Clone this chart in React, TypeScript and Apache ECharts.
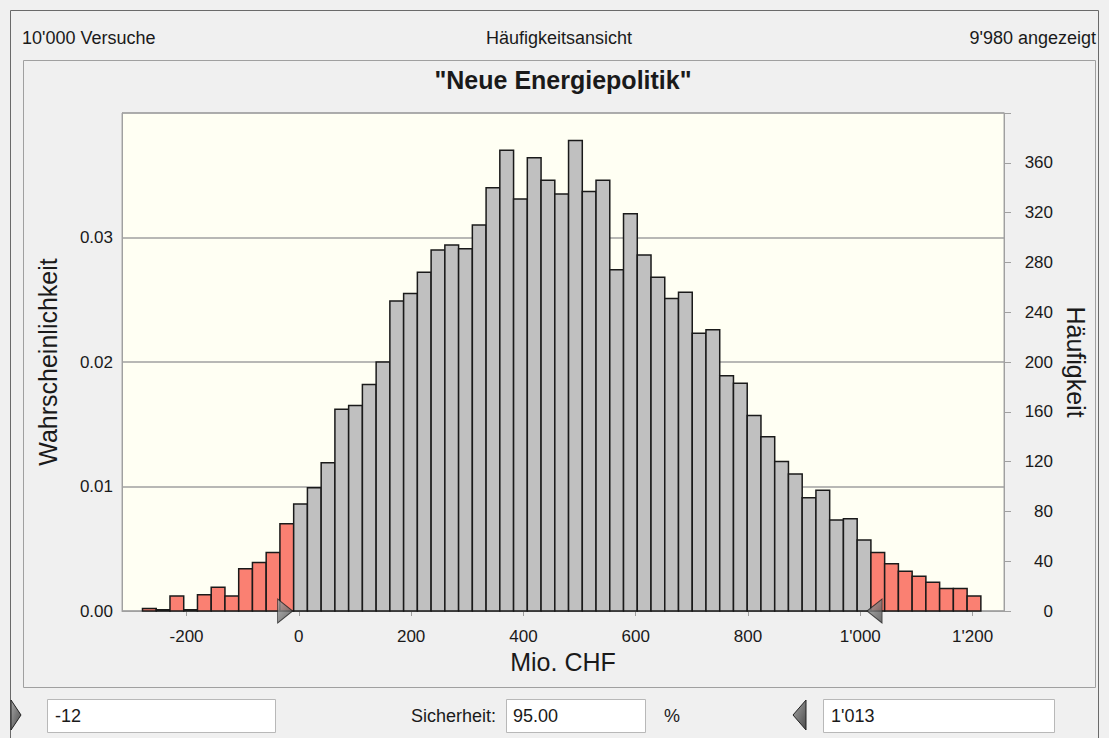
import React, { useEffect, useRef } from "react";
import * as echarts from "echarts";

// ---- data ----
const binCounts = [
  2, 1, 12, 1, 13, 19, 12, 34, 39, 47, 70, 86, 99, 119, 162, 165, 182, 200, 249, 255,
  272, 290, 294, 291, 310, 340, 370, 331, 364, 346, 335, 378, 337, 346, 274, 319, 286,
  268, 251, 256, 223, 226, 189, 183, 157, 140, 120, 110, 91, 97, 73, 74, 57, 47, 38,
  32, 28, 23, 18, 18, 12,
];
const binStart = -278.5;
const binWidth = 24.48;
const lowerCut = -12;
const upperCut = 1013;
const certainty = 95;
const trials = 10000;
const displayed = 9980;
const xTicks = [-200, 0, 200, 400, 600, 800, 1000, 1200];
const xMin = -315;
const xMax = 1256;
const countMax = 400;
const countInterval = 40;
const probMax = 0.04;
const probInterval = 0.01;

const FONT = "'Liberation Sans', Arial, sans-serif";
const TEXT = "#1a1a1a";
const GRID_GRAY = "#a0a0a0";

const fmt = (v: number) => {
  const s = String(Math.abs(Math.round(v))).replace(/\B(?=(\d{3})+(?!\d))/g, "'");
  return (v < 0 ? "-" : "") + s;
};

export default function App() {
  const ref = useRef<HTMLDivElement>(null);

  useEffect(() => {
    if (!ref.current) return;
    const chart = echarts.init(ref.current, undefined, { renderer: "svg" });

    const barData = binCounts.map((c, i) => [
      binStart + i * binWidth,
      binStart + (i + 1) * binWidth,
      c,
    ]);

    const triGrad = () =>
      new echarts.graphic.LinearGradient(0, 0, 1, 1, [
        { offset: 0, color: "#a8a8a8" },
        { offset: 1, color: "#4a4a4a" },
      ]);

    const uiText = (text: string, x: number, y: number, align: string, size = 18, weight = "normal") => ({
      type: "text",
      x,
      y,
      silent: true,
      style: {
        text,
        fontSize: size,
        fontFamily: FONT,
        fontWeight: weight,
        fill: TEXT,
        align,
        verticalAlign: "middle",
      },
    });

    const box = (x: number, w: number) => ({
      type: "rect",
      shape: { x: x + 0.5, y: 699.5, width: w, height: 33 },
      style: { fill: "#ffffff", stroke: "#b8b8b8", lineWidth: 1 },
    });

    const option: any = {
      animation: false,
      backgroundColor: "#f0f0f0",
      grid: {
        left: 122,
        right: 105,
        top: 113,
        bottom: 127,
        show: true,
        backgroundColor: "#fffff3",
        borderColor: "#a8a8a8",
        borderWidth: 1,
      },
      xAxis: {
        type: "value",
        min: xMin,
        max: xMax,
        name: "Mio. CHF",
        nameLocation: "middle",
        nameGap: 36,
        nameTextStyle: { fontSize: 25, fontFamily: FONT, color: TEXT },
        axisLine: { show: true, onZero: false, lineStyle: { color: GRID_GRAY, width: 1 } },
        axisTick: { show: true, customValues: xTicks, length: 5, lineStyle: { color: GRID_GRAY } },
        axisLabel: {
          customValues: xTicks,
          formatter: (v: number) => fmt(v),
          fontSize: 17,
          fontFamily: FONT,
          color: TEXT,
          margin: 17,
        },
        splitLine: { show: false },
      },
      yAxis: [
        {
          type: "value",
          position: "left",
          min: 0,
          max: probMax,
          interval: probInterval,
          name: "Wahrscheinlichkeit",
          nameLocation: "middle",
          nameGap: 62,
          nameTextStyle: { fontSize: 25, fontFamily: FONT, color: TEXT },
          axisLine: { show: true, onZero: false, lineStyle: { color: GRID_GRAY } },
          axisTick: { show: false },
          axisLabel: {
            formatter: (v: number) => (v >= probMax - 1e-9 ? "" : v.toFixed(2)),
            fontSize: 17,
            fontFamily: FONT,
            color: TEXT,
            margin: 9,
          },
          splitLine: { show: true, lineStyle: { color: GRID_GRAY, width: 1.5 } },
        },
        {
          type: "value",
          position: "right",
          min: 0,
          max: countMax,
          interval: countInterval,
          name: "Häufigkeit",
          nameLocation: "middle",
          nameRotate: -90,
          nameGap: 56,
          nameTextStyle: { fontSize: 25, fontFamily: FONT, color: TEXT },
          axisLine: { show: true, onZero: false, lineStyle: { color: GRID_GRAY } },
          axisTick: { show: true, length: 7, lineStyle: { color: GRID_GRAY } },
          axisLabel: {
            formatter: (v: number) => (v >= countMax ? "" : String(v)),
            fontSize: 17,
            fontFamily: FONT,
            color: TEXT,
            margin: 49,
            align: "right",
          },
          splitLine: { show: false },
        },
      ],
      series: [
        {
          type: "custom",
          xAxisIndex: 0,
          yAxisIndex: 1,
          data: barData,
          encode: { x: [0, 1], y: 2 },
          renderItem: (params: any, api: any) => {
            const s = api.value(0);
            const e = api.value(1);
            const c = api.value(2);
            const p0 = api.coord([s, c]);
            const p1 = api.coord([e, 0]);
            const red = s < lowerCut || s >= upperCut;
            return {
              type: "rect",
              shape: { x: p0[0], y: p0[1], width: p1[0] - p0[0], height: p1[1] - p0[1] },
              style: { fill: red ? "#fa8072" : "#c0c0c0", stroke: "#1a1a1a", lineWidth: 1.5 },
            };
          },
          z: 2,
        },
        {
          type: "scatter",
          xAxisIndex: 0,
          yAxisIndex: 1,
          data: [[lowerCut, 0]],
          symbol: "path://M0 0L12 11L0 22Z",
          symbolSize: [15, 24],
          symbolOffset: [-7, 0],
          symbolKeepAspect: false,
          itemStyle: { color: triGrad(), borderColor: "#222", borderWidth: 1 },
          clip: false,
          silent: true,
          z: 5,
        },
        {
          type: "scatter",
          xAxisIndex: 0,
          yAxisIndex: 1,
          data: [[upperCut, 0]],
          symbol: "path://M12 0L0 11L12 22Z",
          symbolSize: [15, 24],
          symbolOffset: [7, 0],
          symbolKeepAspect: false,
          itemStyle: { color: triGrad(), borderColor: "#222", borderWidth: 1 },
          clip: false,
          silent: true,
          z: 5,
        },
      ],
      graphic: [
        {
          type: "rect",
          shape: { x: 10.5, y: 10.5, width: 1088, height: 740 },
          style: { fill: "none", stroke: "#6a6a6a", lineWidth: 1 },
          silent: true,
        },
        {
          type: "rect",
          shape: { x: 23.5, y: 60.5, width: 1072, height: 627 },
          style: { fill: "none", stroke: "#a0a0a0", lineWidth: 1 },
          silent: true,
        },
        uiText(fmt(trials) + " Versuche", 22, 38, "left"),
        uiText("Häufigkeitsansicht", 559, 38, "center"),
        uiText(fmt(displayed) + " angezeigt", 1096, 38, "right"),
        uiText('"Neue Energiepolitik"', 563, 80, "center", 25, "bold"),
        box(47, 228),
        box(506, 139),
        box(823, 231),
        {
          type: "polygon",
          shape: { points: [[11, 700], [21, 715], [11, 730]] },
          style: { fill: triGrad(), stroke: "#222", lineWidth: 1 },
        },
        {
          type: "polygon",
          shape: { points: [[806, 700], [793, 715], [806, 730]] },
          style: { fill: triGrad(), stroke: "#222", lineWidth: 1 },
        },
        uiText(fmt(lowerCut), 55, 716, "left"),
        uiText("Sicherheit:", 496, 716, "right"),
        uiText(certainty.toFixed(2), 513, 716, "left"),
        uiText("%", 664, 716, "left"),
        uiText(fmt(upperCut), 831, 716, "left"),
      ],
    };

    chart.setOption(option);
    return () => chart.dispose();
  }, []);

  return (
    <div
      ref={ref}
      style={{ position: "absolute", left: 0, top: 0, width: 1109, height: 738, background: "#ffffff" }}
    />
  );
}
